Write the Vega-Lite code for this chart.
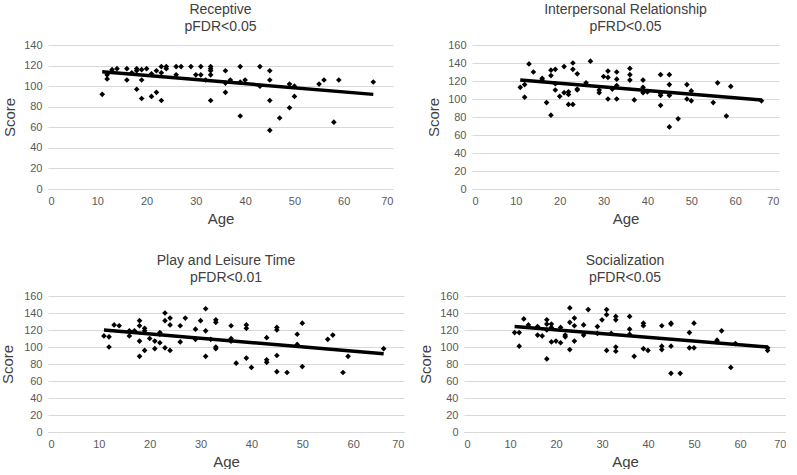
{
  "$schema": "https://vega.github.io/schema/vega-lite/v6.json",
  "padding": {"left": 0, "top": 3, "right": 0, "bottom": 0},
  "background": "white",
  "config": {
    "view": {"stroke": null},
    "font": "Liberation Sans",
    "title": {"fontSize": 14, "fontWeight": "normal", "color": "#404040", "font": "Liberation Sans", "lineHeight": 17, "offset": 5},
    "axis": {"labelFontSize": 11, "labelColor": "#595959", "titleFontSize": 15, "titleFontWeight": "normal", "titleColor": "#404040", "labelFont": "Liberation Sans", "titleFont": "Liberation Sans"},
    "axisX": {"grid": false, "ticks": false, "domainColor": "#d9d9d9", "labelPadding": 6, "titlePadding": 5},
    "axisY": {"grid": true, "gridColor": "#d9d9d9", "domain": false, "ticks": false, "labelPadding": 6, "titlePadding": 6, "labelOverlap": false},
    "point": {"shape": "diamond", "filled": true, "color": "black", "size": 32, "opacity": 1},
    "line": {"color": "black", "strokeWidth": 3.5}
  },
  "datasets": {
    "rec": [
      {"age": 11, "score": 92}, {"age": 12, "score": 107}, {"age": 12, "score": 111}, {"age": 13, "score": 116}, {"age": 14, "score": 117},
      {"age": 16, "score": 117}, {"age": 16, "score": 106}, {"age": 17, "score": 113}, {"age": 18, "score": 117}, {"age": 18, "score": 115},
      {"age": 18, "score": 97}, {"age": 19, "score": 116}, {"age": 19, "score": 106}, {"age": 19, "score": 88}, {"age": 20, "score": 117},
      {"age": 21, "score": 90}, {"age": 21, "score": 112}, {"age": 22, "score": 115}, {"age": 22, "score": 94}, {"age": 23, "score": 119},
      {"age": 23, "score": 113}, {"age": 23, "score": 86}, {"age": 24, "score": 119}, {"age": 24, "score": 117}, {"age": 26, "score": 119},
      {"age": 26, "score": 111}, {"age": 27, "score": 119}, {"age": 29, "score": 119}, {"age": 30, "score": 111}, {"age": 31, "score": 119},
      {"age": 31, "score": 111}, {"age": 32, "score": 106}, {"age": 33, "score": 119}, {"age": 33, "score": 117}, {"age": 33, "score": 115},
      {"age": 33, "score": 111}, {"age": 33, "score": 86}, {"age": 36, "score": 115}, {"age": 36, "score": 103}, {"age": 36, "score": 94},
      {"age": 37, "score": 106}, {"age": 39, "score": 119}, {"age": 39, "score": 104}, {"age": 39, "score": 71}, {"age": 40, "score": 106},
      {"age": 43, "score": 119}, {"age": 43, "score": 100}, {"age": 45, "score": 115}, {"age": 45, "score": 106}, {"age": 45, "score": 86},
      {"age": 45, "score": 57}, {"age": 47, "score": 69}, {"age": 49, "score": 102}, {"age": 49, "score": 79}, {"age": 50, "score": 100},
      {"age": 50, "score": 90}, {"age": 55, "score": 102}, {"age": 56, "score": 106}, {"age": 58, "score": 65}, {"age": 59, "score": 106},
      {"age": 66, "score": 104}
    ],
    "rec_t": [{"age": 11, "score": 114}, {"age": 66, "score": 92}],
    "inter": [
      {"age": 11, "score": 113}, {"age": 12, "score": 116}, {"age": 12, "score": 102}, {"age": 13, "score": 139}, {"age": 14, "score": 130},
      {"age": 16, "score": 123}, {"age": 16, "score": 121}, {"age": 17, "score": 96}, {"age": 18, "score": 132}, {"age": 18, "score": 126},
      {"age": 18, "score": 82}, {"age": 19, "score": 133}, {"age": 19, "score": 117}, {"age": 19, "score": 110}, {"age": 20, "score": 103},
      {"age": 21, "score": 136}, {"age": 21, "score": 107}, {"age": 22, "score": 108}, {"age": 22, "score": 105}, {"age": 22, "score": 94},
      {"age": 23, "score": 140}, {"age": 23, "score": 133}, {"age": 23, "score": 94}, {"age": 24, "score": 128}, {"age": 24, "score": 111},
      {"age": 24, "score": 110}, {"age": 26, "score": 118}, {"age": 27, "score": 142}, {"age": 29, "score": 110}, {"age": 29, "score": 107},
      {"age": 30, "score": 125}, {"age": 31, "score": 131}, {"age": 31, "score": 124}, {"age": 31, "score": 100}, {"age": 32, "score": 111},
      {"age": 33, "score": 130}, {"age": 33, "score": 122}, {"age": 33, "score": 115}, {"age": 33, "score": 100}, {"age": 36, "score": 134},
      {"age": 36, "score": 127}, {"age": 36, "score": 121}, {"age": 37, "score": 99}, {"age": 39, "score": 121}, {"age": 39, "score": 113},
      {"age": 39, "score": 110}, {"age": 39, "score": 107}, {"age": 40, "score": 108}, {"age": 43, "score": 127}, {"age": 43, "score": 106},
      {"age": 43, "score": 104}, {"age": 43, "score": 93}, {"age": 45, "score": 127}, {"age": 45, "score": 116}, {"age": 45, "score": 106},
      {"age": 45, "score": 104}, {"age": 45, "score": 69}, {"age": 47, "score": 78}, {"age": 49, "score": 116}, {"age": 49, "score": 100},
      {"age": 50, "score": 109}, {"age": 50, "score": 98}, {"age": 55, "score": 96}, {"age": 56, "score": 118}, {"age": 58, "score": 81},
      {"age": 59, "score": 114}, {"age": 66, "score": 98}
    ],
    "inter_t": [{"age": 11, "score": 121}, {"age": 66, "score": 99}],
    "play": [
      {"age": 11, "score": 113}, {"age": 12, "score": 112}, {"age": 12, "score": 100}, {"age": 13, "score": 126}, {"age": 14, "score": 125},
      {"age": 16, "score": 119}, {"age": 16, "score": 113}, {"age": 17, "score": 119}, {"age": 18, "score": 131}, {"age": 18, "score": 125},
      {"age": 18, "score": 107}, {"age": 18, "score": 89}, {"age": 19, "score": 122}, {"age": 19, "score": 119}, {"age": 19, "score": 96},
      {"age": 20, "score": 110}, {"age": 21, "score": 107}, {"age": 21, "score": 98}, {"age": 22, "score": 117}, {"age": 22, "score": 115},
      {"age": 22, "score": 105}, {"age": 23, "score": 140}, {"age": 23, "score": 131}, {"age": 23, "score": 99}, {"age": 24, "score": 134},
      {"age": 24, "score": 126}, {"age": 24, "score": 96}, {"age": 26, "score": 125}, {"age": 26, "score": 106}, {"age": 27, "score": 134},
      {"age": 29, "score": 121}, {"age": 29, "score": 109}, {"age": 30, "score": 131}, {"age": 31, "score": 145}, {"age": 31, "score": 119},
      {"age": 31, "score": 89}, {"age": 32, "score": 109}, {"age": 33, "score": 132}, {"age": 33, "score": 129}, {"age": 33, "score": 100},
      {"age": 33, "score": 98}, {"age": 36, "score": 125}, {"age": 36, "score": 110}, {"age": 36, "score": 107}, {"age": 37, "score": 81},
      {"age": 39, "score": 126}, {"age": 39, "score": 122}, {"age": 39, "score": 87}, {"age": 40, "score": 76}, {"age": 43, "score": 111},
      {"age": 43, "score": 85}, {"age": 43, "score": 82}, {"age": 45, "score": 123}, {"age": 45, "score": 120}, {"age": 45, "score": 90},
      {"age": 45, "score": 71}, {"age": 47, "score": 70}, {"age": 49, "score": 115}, {"age": 49, "score": 103}, {"age": 50, "score": 128},
      {"age": 50, "score": 77}, {"age": 55, "score": 109}, {"age": 56, "score": 114}, {"age": 58, "score": 70}, {"age": 59, "score": 89},
      {"age": 66, "score": 98}
    ],
    "play_t": [{"age": 11, "score": 120}, {"age": 66, "score": 92}],
    "soc": [
      {"age": 11, "score": 117}, {"age": 12, "score": 117}, {"age": 12, "score": 101}, {"age": 13, "score": 133}, {"age": 14, "score": 126},
      {"age": 16, "score": 124}, {"age": 16, "score": 114}, {"age": 17, "score": 113}, {"age": 18, "score": 132}, {"age": 18, "score": 127},
      {"age": 18, "score": 120}, {"age": 18, "score": 86}, {"age": 19, "score": 127}, {"age": 19, "score": 123}, {"age": 19, "score": 106},
      {"age": 20, "score": 107}, {"age": 21, "score": 123}, {"age": 21, "score": 105}, {"age": 22, "score": 114}, {"age": 22, "score": 112},
      {"age": 23, "score": 146}, {"age": 23, "score": 129}, {"age": 23, "score": 97}, {"age": 24, "score": 134}, {"age": 24, "score": 125},
      {"age": 24, "score": 107}, {"age": 26, "score": 126}, {"age": 26, "score": 114}, {"age": 27, "score": 144}, {"age": 29, "score": 124},
      {"age": 29, "score": 116}, {"age": 30, "score": 132}, {"age": 31, "score": 144}, {"age": 31, "score": 138}, {"age": 31, "score": 96},
      {"age": 32, "score": 116}, {"age": 33, "score": 136}, {"age": 33, "score": 132}, {"age": 33, "score": 100}, {"age": 33, "score": 95},
      {"age": 36, "score": 136}, {"age": 36, "score": 121}, {"age": 36, "score": 115}, {"age": 37, "score": 89}, {"age": 39, "score": 128},
      {"age": 39, "score": 125}, {"age": 39, "score": 98}, {"age": 40, "score": 96}, {"age": 43, "score": 125}, {"age": 43, "score": 101},
      {"age": 43, "score": 97}, {"age": 45, "score": 128}, {"age": 45, "score": 127}, {"age": 45, "score": 101}, {"age": 45, "score": 69},
      {"age": 47, "score": 69}, {"age": 49, "score": 117}, {"age": 49, "score": 99}, {"age": 50, "score": 128}, {"age": 50, "score": 99},
      {"age": 55, "score": 108}, {"age": 55, "score": 106}, {"age": 56, "score": 119}, {"age": 58, "score": 76}, {"age": 59, "score": 104},
      {"age": 66, "score": 99}, {"age": 66, "score": 96}
    ],
    "soc_t": [{"age": 11, "score": 124}, {"age": 66, "score": 100}]
  },
  "vconcat": [
    {
      "hconcat": [
        {
          "title": {"text": ["Receptive", "pFDR<0.05"]},
          "width": 345, "height": 144,
          "encoding": {
            "x": {"field": "age", "type": "quantitative", "scale": {"domain": [0, 70]}, "title": "Age", "axis": {"values": [0, 10, 20, 30, 40, 50, 60, 70]}},
            "y": {"field": "score", "type": "quantitative", "scale": {"domain": [0, 140]}, "axis": {"values": [0, 20, 40, 60, 80, 100, 120, 140]}, "title": "Score"}
          },
          "layer": [
            {"data": {"name": "rec"}, "mark": "point"},
            {"data": {"name": "rec_t"}, "mark": "line"}
          ]
        },
        {
          "title": {"text": ["Interpersonal Relationship", "pFRD<0.05"]},
          "width": 307, "height": 144,
          "encoding": {
            "x": {"field": "age", "type": "quantitative", "scale": {"domain": [0, 70]}, "title": "Age", "axis": {"values": [0, 10, 20, 30, 40, 50, 60, 70]}},
            "y": {"field": "score", "type": "quantitative", "scale": {"domain": [0, 160]}, "axis": {"values": [0, 20, 40, 60, 80, 100, 120, 140, 160]}, "title": "Score"}
          },
          "layer": [
            {"data": {"name": "inter"}, "mark": "point"},
            {"data": {"name": "inter_t"}, "mark": "line"}
          ]
        }
      ],
      "spacing": 33
    },
    {
      "hconcat": [
        {
          "title": {"text": ["Play and Leisure Time", "pFDR<0.01"]},
          "width": 356, "height": 136,
          "encoding": {
            "x": {"field": "age", "type": "quantitative", "scale": {"domain": [0, 70]}, "title": "Age", "axis": {"values": [0, 10, 20, 30, 40, 50, 60, 70]}},
            "y": {"field": "score", "type": "quantitative", "scale": {"domain": [0, 160]}, "axis": {"values": [0, 20, 40, 60, 80, 100, 120, 140, 160], "titlePadding": 8}, "title": "Score"}
          },
          "layer": [
            {"data": {"name": "play"}, "mark": "point"},
            {"data": {"name": "play_t"}, "mark": "line"}
          ]
        },
        {
          "title": {"text": ["Socialization", "pFDR<0.05"]},
          "width": 322, "height": 136,
          "encoding": {
            "x": {"field": "age", "type": "quantitative", "scale": {"domain": [0, 70]}, "title": "Age", "axis": {"values": [0, 10, 20, 30, 40, 50, 60, 70]}},
            "y": {"field": "score", "type": "quantitative", "scale": {"domain": [0, 160]}, "axis": {"values": [0, 20, 40, 60, 80, 100, 120, 140, 160]}, "title": "Score"}
          },
          "layer": [
            {"data": {"name": "soc"}, "mark": "point"},
            {"data": {"name": "soc_t"}, "mark": "line"}
          ]
        }
      ],
      "spacing": 14
    }
  ],
  "spacing": 28
}
